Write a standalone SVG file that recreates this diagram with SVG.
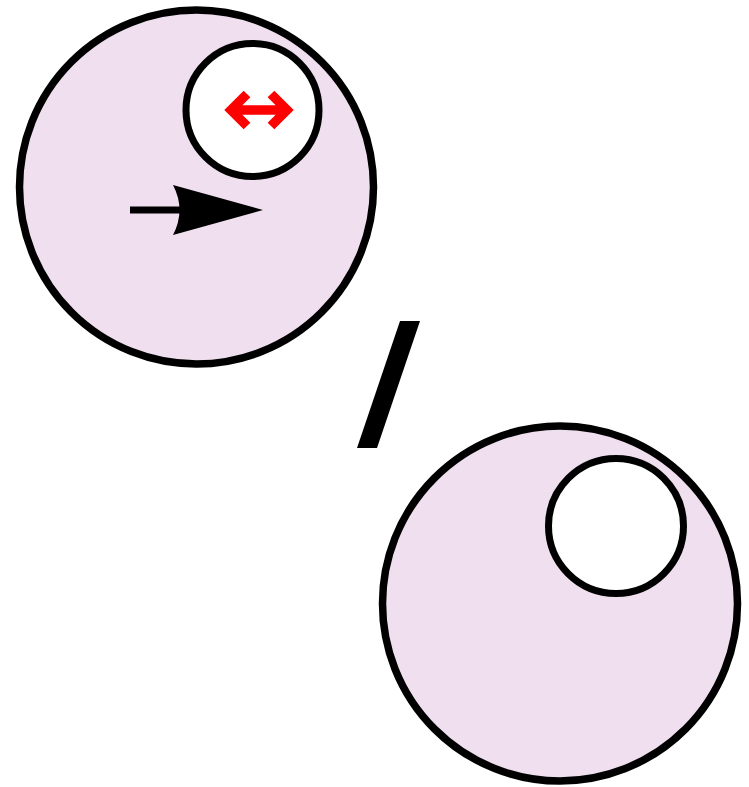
<svg xmlns="http://www.w3.org/2000/svg" width="749" height="787" viewBox="0 0 749 787">
<style>
.big{fill:#f0dfef;stroke:#000;stroke-width:7.5}
.small{fill:#fff;stroke:#000;stroke-width:7}
.red{fill:none;stroke:#f00;stroke-width:9.5;stroke-linejoin:miter;stroke-miterlimit:10}
</style>
<rect width="749" height="787" fill="#fff"/>
<g id="circle1">
<circle class="big" cx="196.5" cy="187" r="177"/>
<circle class="small" cx="252.5" cy="110" r="66.5"/>
<g id="red-arrow">
<path class="red" d="M247,94 L231,110 L247,126 M231,110 H287 M271,94 L287,110 L271,126"/>
</g>
<g id="black-arrow">
<path d="M130,210 H188" stroke="#000" stroke-width="7" fill="none"/>
<path d="M263,210 L173,185 Q186,210 173,235 Z" fill="#000"/>
</g>
</g>
<g id="slash">
<polygon points="400,321 420,321 377,448 357,448" fill="#000"/>
</g>
<g id="circle2">
<circle class="big" cx="560" cy="603.5" r="177.5"/>
<circle class="small" cx="616" cy="526" r="67.5"/>
</g>
<g id="connectors"></g>
</svg>
